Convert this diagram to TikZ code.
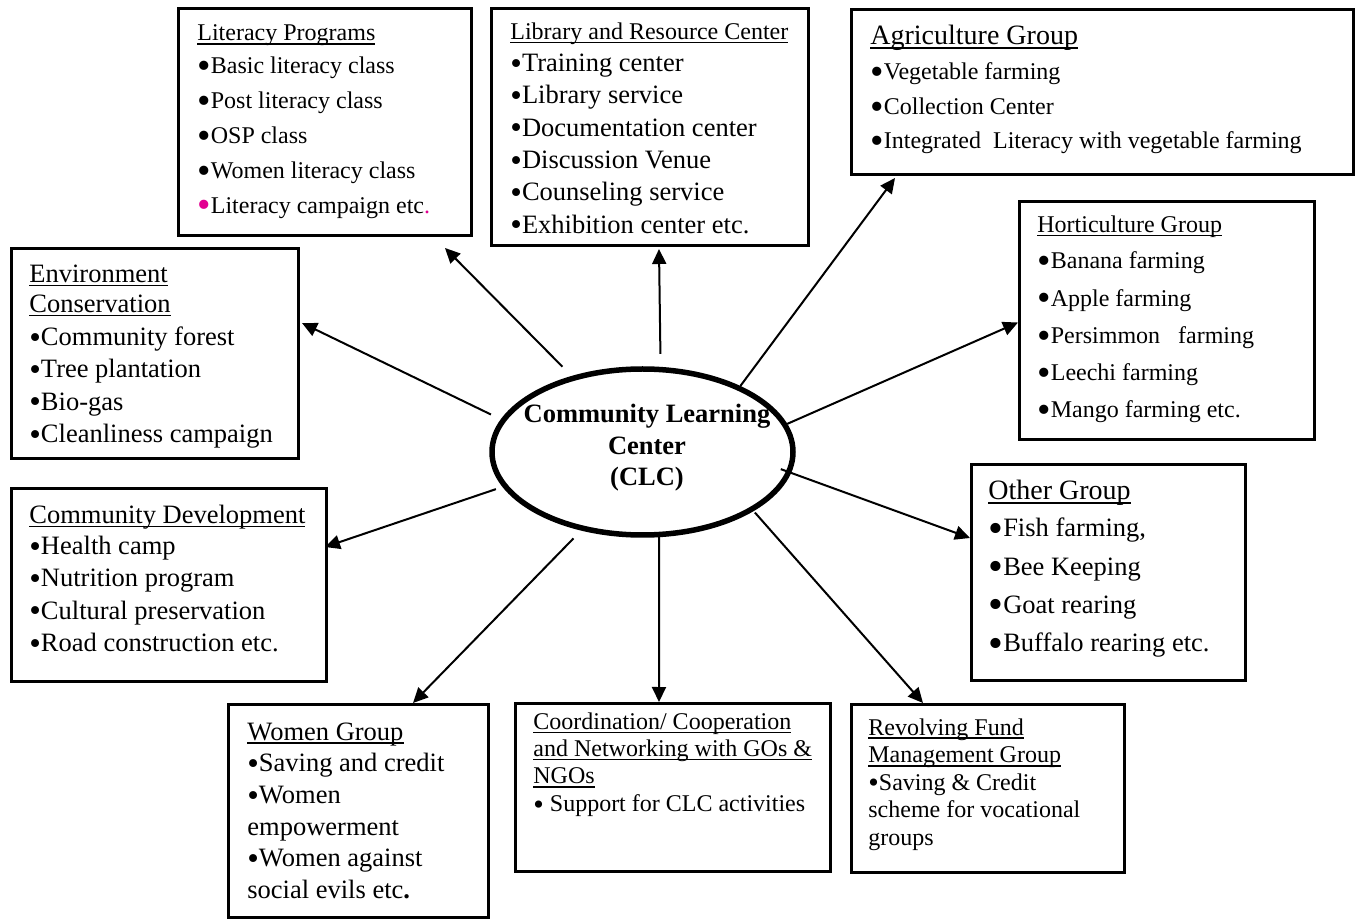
\documentclass[tikz,border=0pt]{standalone}
\usepackage{fontspec}
\setmainfont{Liberation Serif}
\usepackage{graphicx}
\usetikzlibrary{shapes.geometric, arrows.meta}

\definecolor{bulpink}{RGB}{226,0,145}
% 项目符号与标题下划线
\newcommand{\smallbul}{\raisebox{-0.1em}[0pt][0pt]{\scalebox{1.25}{\textbullet}}}
\newcommand{\bigbul}{\raisebox{-0.2em}[0pt][0pt]{\scalebox{1.6}{\textbullet}}}
\newcommand{\grphead}[1]{\setbox0=\hbox{#1}\rlap{\rule[-1.9pt]{\wd0}{0.75pt}}\box0}
% 字号
\newcommand{\fsA}{\fontsize{12}{14}\selectfont}
\newcommand{\fsB}{\fontsize{13.25}{15.5}\selectfont}
\newcommand{\fsC}{\fontsize{14}{16.5}\selectfont}

\begin{document}
\begin{tikzpicture}[
        % 像素坐标,y 向下
        x=0.5pt, y=-0.5pt,
        frame/.style={draw, line width=1.6pt, anchor=north west, inner sep=0pt},
        hub/.style={ellipse, draw, line width=2.75pt, inner sep=0pt, minimum width=150.5pt, minimum height=83pt},
        txt/.style={anchor=base west, inner sep=0pt},
        hubtxt/.style={anchor=base, inner sep=0pt, font=\fsB\bfseries},
        link/.style={-{Triangle[length=7.5pt, width=7pt]}, line width=1pt}
    ]

        \useasboundingbox (0,0) rectangle (1361,919);

        % --- 1. 中心椭圆 (CLC) ---
        \node[hub] (clc) at (642.5,452) {};
        \foreach \yy/\lbl [count=\i] in {423/Community Learning, 455/Center, 486/(CLC)}
            \node[hubtxt] (clc-\i) at (647,\yy) {\lbl};


        % --- 2. 外框 ---
        \node[frame, minimum width=146.4pt, minimum height=113.4pt] (lit) at (177,7) {};
        \node[frame, minimum width=158.4pt, minimum height=118.4pt] (lib) at (490,7) {};
        \node[frame, minimum width=250.9pt, minimum height=82.4pt] (agri) at (850,8) {};
        \node[frame, minimum width=147.4pt, minimum height=118.9pt] (horti) at (1018,200) {};
        \node[frame, minimum width=143.4pt, minimum height=104.9pt] (env) at (10,247) {};
        \node[frame, minimum width=157.4pt, minimum height=96.4pt] (dev) at (10,487) {};
        \node[frame, minimum width=136.9pt, minimum height=107.9pt] (other) at (970,463) {};
        \node[frame, minimum width=129.9pt, minimum height=106.4pt] (women) at (227,703) {};
        \node[frame, minimum width=157.4pt, minimum height=83.9pt] (coord) at (514,702) {};
        \node[frame, minimum width=136.4pt, minimum height=83.9pt] (fund) at (850,703) {};


        % --- 3. 框内文字 ---
        % Literacy Programs
        \node[txt, font=\fsA] (lit-t) at (197,41) {\grphead{Literacy Programs}};
        \foreach \lbl [count=\i] in {Basic literacy class, Post literacy class, OSP class, Women literacy class}
            \node[txt, font=\fsA] (lit-\i) at (197,{74+34.8*(\i-1)}) {\bigbul\lbl};
        \node[txt, font=\fsA] (lit-5) at (197,213.2) {\textcolor{bulpink}{\bigbul}Literacy campaign etc\textcolor{bulpink}{.}};

        % Library and Resource Center
        \node[txt, font=\fsA] (lib-t) at (510,39.3) {\grphead{Library and Resource Center}};
        \foreach \lbl [count=\i] in {Training center, Library service, Documentation center, Discussion Venue, Counseling service, Exhibition center etc.}
            \node[txt, font=\fsB] (lib-\i) at (510,{71.7+32.3*(\i-1)}) {\smallbul\lbl};

        % Agriculture Group
        \node[txt, font=\fsC] (agri-t) at (870,45) {\grphead{Agriculture Group}};
        \foreach \lbl [count=\i] in {Vegetable farming, Collection Center, Integrated\ \ Literacy with vegetable farming}
            \node[txt, font=\fsA] (agri-\i) at (870,{80+34.5*(\i-1)}) {\bigbul\lbl};

        % Horticulture Group
        \node[txt, font=\fsA] (horti-t) at (1037,232.3) {\grphead{Horticulture Group}};
        \foreach \lbl [count=\i] in {Banana farming, Apple farming, Persimmon\ \ \ farming, Leechi farming, Mango farming etc.}
            \node[txt, font=\fsA] (horti-\i) at (1037,{269+37.2*(\i-1)}) {\bigbul\lbl};

        % Environment Conservation
        \foreach \lbl [count=\i] in {Environment, Conservation}
            \node[txt, font=\fsB] (env-t\i) at (29,{282.7+30*(\i-1)}) {\grphead{\lbl}};
        \foreach \lbl [count=\i] in {Community forest, Tree plantation, Bio-gas, Cleanliness campaign}
            \node[txt, font=\fsB] (env-\i) at (29,{345.5+32.3*(\i-1)}) {\smallbul\lbl};

        % Community Development
        \node[txt, font=\fsB] (dev-t) at (29,523.3) {\grphead{Community Development}};
        \foreach \lbl [count=\i] in {Health camp, Nutrition program, Cultural preservation, Road construction etc.}
            \node[txt, font=\fsB] (dev-\i) at (29,{554.5+32.3*(\i-1)}) {\smallbul\lbl};

        % Other Group
        \node[txt, font=\fsC] (other-t) at (988,500) {\grphead{Other Group}};
        \foreach \lbl [count=\i] in {{Fish farming,}, Bee Keeping, Goat rearing, Buffalo rearing etc.}
            \node[txt, font=\fsB] (other-\i) at (988,{537+38.3*(\i-1)}) {\bigbul\lbl};

        % Women Group
        \node[txt, font=\fsB] (women-t) at (247,740) {\grphead{Women Group}};
        \foreach \lbl [count=\i] in {\smallbul Saving and credit, \smallbul Women, empowerment, \smallbul Women against, social evils etc\textbf{.}}
            \node[txt, font=\fsB] (women-\i) at (247,{771.7+31.7*(\i-1)}) {\lbl};

        % Coordination / Cooperation
        \foreach \lbl [count=\i] in {Coordination/ Cooperation, and Networking with GOs \&, NGOs}
            \node[txt, font=\fsA] (coord-t\i) at (533,{729.3+27.3*(\i-1)}) {\grphead{\lbl}};
        \node[txt, font=\fsA] (coord-1) at (533,811.7) {\smallbul{} Support for CLC activities};

        % Revolving Fund
        \foreach \lbl [count=\i] in {Revolving Fund, Management Group}
            \node[txt, font=\fsA] (fund-t\i) at (868,{735+27.7*(\i-1)}) {\grphead{\lbl}};
        \foreach \lbl [count=\i] in {\smallbul Saving \& Credit, scheme for vocational, groups}
            \node[txt, font=\fsA] (fund-\i) at (868,{790+27.7*(\i-1)}) {\lbl};


        % --- 4. 箭头 (CLC -> 各组) ---
        \draw[link, shorten <=6.5pt] (clc.133) -- ([xshift=-14pt, yshift=-5.5pt]lit.south east);
        \draw[link, shorten <=6.5pt] (clc.78) -- ([xshift=4.5pt, yshift=-1pt]lib.south);
        \draw[link] (clc.34) -- ([xshift=22.5pt, yshift=-1pt]agri.south west);
        \draw[link] (clc.11) -- ([yshift=-1pt]horti.west);
        \draw[link, shorten <=-5.5pt] (clc.-8) -- ([yshift=-37.5pt]other.north west);
        \draw[link, shorten <=1pt] (clc.-28) -- ([xshift=36.5pt]fund.north west);
        \draw[link] (clc.-79) -- ([xshift=-7pt]coord.north);
        \draw[link, shorten <=5.5pt] (clc.-128) -- ([xshift=-38.5pt]women.north east);
        \draw[link, shorten <=3.5pt] (clc.194) -- ([xshift=-1.5pt, yshift=-30pt]dev.north east);
        \draw[link, shorten <=5.5pt] (clc.167) -- ([xshift=1pt, yshift=-38pt]env.north east);

    \end{tikzpicture}
\end{document}
